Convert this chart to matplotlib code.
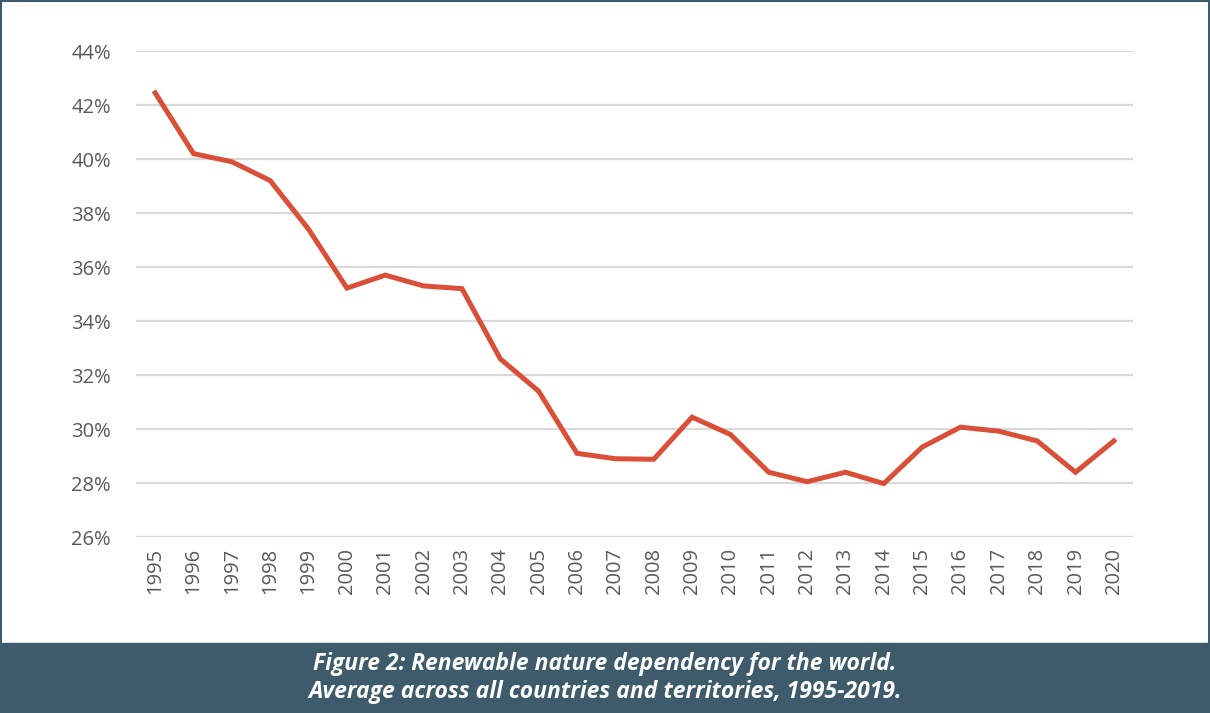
import matplotlib.pyplot as plt
from matplotlib.patches import Rectangle
from matplotlib.ticker import FuncFormatter

years = list(range(1995, 2021))
dependency = [42.45, 40.2, 39.9, 39.2, 37.4, 35.22, 35.7, 35.3, 35.2, 32.6,
              31.4, 29.1, 28.9, 28.88, 30.44, 29.8, 28.4, 28.05, 28.4, 27.98,
              29.33, 30.07, 29.92, 29.56, 28.4, 29.56]
y_ticks = [26, 28, 30, 32, 34, 36, 38, 40, 42, 44]
caption = ("Figure 2: Renewable nature dependency for the world.\n"
           "Average across all countries and territories, 1995-2019.")

plt.rcParams['font.family'] = ['Open Sans', 'DejaVu Sans']

fig = plt.figure(figsize=(12.1, 7.13), dpi=100)
ax = fig.add_axes([0.1124, 0.2468, 0.824, 0.6816])

x = list(range(len(years)))
ax.plot(x, dependency, color='#d94f38', lw=3.6, solid_joinstyle='miter')
ax.set_xlim(-0.5, len(years) - 0.5)
ax.set_ylim(26, 44)
ax.set_yticks(y_ticks)
ax.yaxis.set_major_formatter(FuncFormatter(lambda v, p: f"{v:.0f}%"))
ax.set_xticks(x)
ax.set_xticklabels([str(y) for y in years], rotation=90)
ax.tick_params(length=0, labelsize=14.5, labelcolor='#595959')
ax.tick_params(axis='y', pad=18)
ax.tick_params(axis='x', pad=8)
ax.grid(axis='y', color='#d9d9d9', lw=1.6)
ax.set_axisbelow(True)
for s in ax.spines.values():
    s.set_visible(False)

# caption band and frame
fig.patches.append(Rectangle((0, 0), 1, 70 / 713, transform=fig.transFigure,
                             color='#3e5b6b', zorder=0))
fig.patches.append(Rectangle((0.001, 0.001), 0.998, 0.997, transform=fig.transFigure,
                             fill=False, edgecolor='#3e5b6b', lw=1.5, zorder=1))
fig.text(0.5, 35 / 713, caption, ha='center', va='center', color='white',
         fontsize=16.5, fontweight='bold', fontstyle='italic', linespacing=1.2)

fig.savefig("out.png", dpi=100)
